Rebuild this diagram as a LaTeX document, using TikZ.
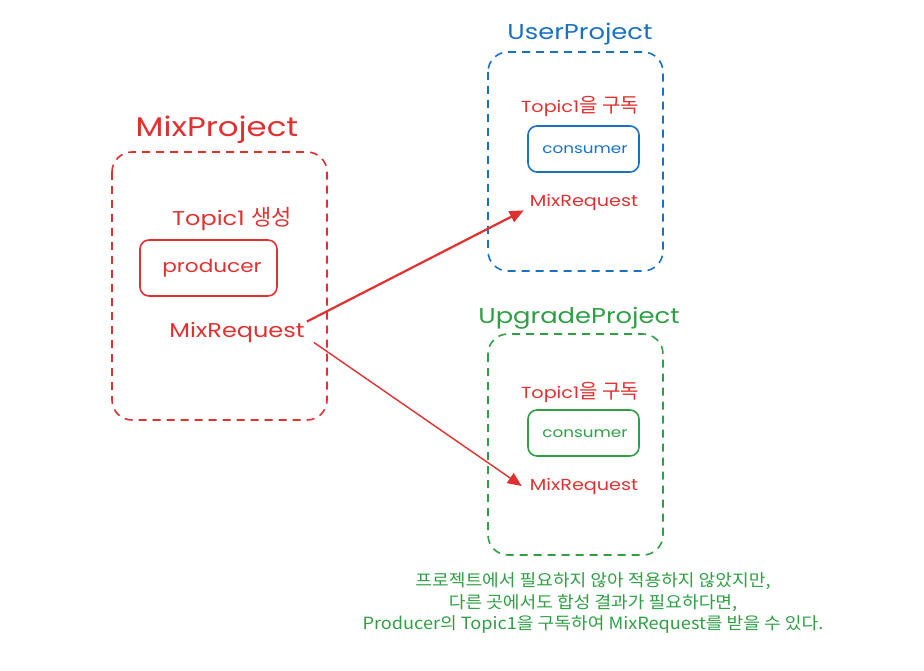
\documentclass[tikz,border=0pt]{standalone}
\usepackage{fontspec}
\usetikzlibrary{arrows.meta,calc}
\newfontfamily\kr{Noto Sans CJK KR}
\newfontfamily\krw[FakeStretch=1.08]{Noto Sans CJK KR}
\newfontfamily\hand[FakeStretch=1.2]{Poppins}
\definecolor{cred}{HTML}{E03131}
\definecolor{cblue}{HTML}{1971C2}
\definecolor{cgreen}{HTML}{2F9E44}
\begin{document}
\begin{tikzpicture}[x=1pt,y=-1pt,
  proj/.style={draw, dashed, line width=1.6pt, rounded corners=20pt, dash pattern=on 8pt off 6pt},
  inbox/.style={draw, line width=1.6pt, rounded corners=9pt},
  lbl/.style={inner sep=0pt, font=\hand\fontsize{20}{22}\selectfont},
  small/.style={inner sep=0pt, font=\hand\fontsize{16}{18}\selectfont},
  ttl/.style={inner sep=0pt, font=\hand\fontsize{21.5}{24}\selectfont},
  arr/.style={draw=cred, -{Triangle[length=14pt,width=12pt]}, fill=cred}
]
\useasboundingbox (0,0) rectangle (924,671);
% MixProject
\draw[proj, cred] (112,152) rectangle (327,420);
\node[ttl, text=cred, font=\hand\fontsize{27}{30}\selectfont] (mt) at (217,130) {MixProject};
\node[lbl, text=cred] (mtopic) at (232,219) {Topic1 {\kr\fontsize{22}{22}\selectfont 생성}};
\draw[inbox, cred] (140,240) rectangle (277,296);
\node[lbl, text=cred, font=\hand\fontsize{18}{20}\selectfont] (prod) at (212,268) {producer};
\node[lbl, text=cred] (mr) at (237,332) {MixRequest};
% UserProject
\draw[proj, cblue] (488,52) rectangle (663,271);
\node[ttl, text=cblue] (ut) at (580,34) {UserProject};
\node[small, text=cred] (utopic) at (580,106) {Topic1{\kr\fontsize{20}{20}\selectfont 을 구독}};
\draw[inbox, cblue] (528,126) rectangle (639,172);
\node[small, text=cblue, font=\hand\fontsize{14}{17}\selectfont] (ucons) at (585,150) {consumer};
\node[small, text=cred] (umr) at (584,202) {MixRequest};
% UpgradeProject
\draw[proj, cgreen] (488,334) rectangle (663,555);
\node[ttl, text=cgreen] (gt) at (579,318) {UpgradeProject};
\node[small, text=cred] (gtopic) at (580,392) {Topic1{\kr\fontsize{20}{20}\selectfont 을 구독}};
\draw[inbox, cgreen] (528,410) rectangle (639,456);
\node[small, text=cgreen, font=\hand\fontsize{14}{17}\selectfont] (gcons) at (585,434) {consumer};
\node[small, text=cred] (gmr) at (584,486) {MixRequest};
% arrows
\draw[arr, line width=2.2pt] ([xshift=2pt]mr.north east) -- ([xshift=-6pt]umr.south west);
\draw[arr, line width=1.4pt] ([xshift=9pt]mr.south east) -- ([xshift=-8pt]gmr.west);
% note
\node[inner sep=0pt, text=cgreen, align=center, font=\krw\fontsize{16.8}{21.5}\selectfont] (note) at (593,603)
 {프로젝트에서 필요하지 않아 적용하지 않았지만,\\ 다른 곳에서도 합성 결과가 필요하다면,\\ Producer의 Topic1을 구독하여 MixRequest를 받을 수 있다.};
\end{tikzpicture}
\end{document}
